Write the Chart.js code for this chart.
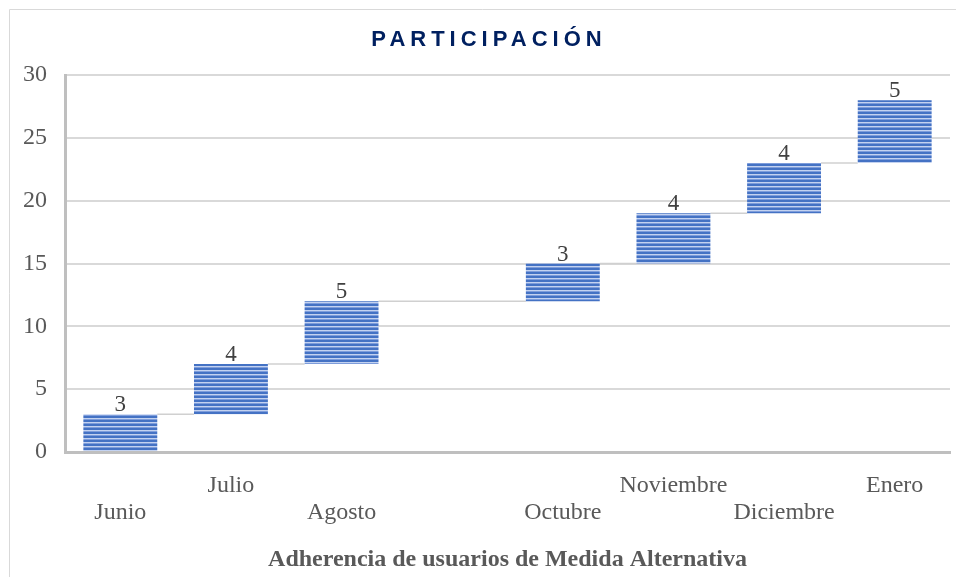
<!DOCTYPE html>
<html><head><meta charset="utf-8">
<script src="https://cdn.jsdelivr.net/npm/chart.js@4"></script>
<style>html,body{margin:0;padding:0;background:#fff;overflow:hidden}#wrap{position:relative;width:956px;height:577px}</style>
</head><body><div id="wrap"><canvas id="c" width="956" height="577"></canvas></div>
<script>
const categories = ['Junio','Julio','Agosto','','Octubre','Noviembre','Diciembre','Enero'];
const increments = [3,4,5,0,3,4,4,5];
const yTicks = [0,5,10,15,20,25,30];
const chartTitle = 'PARTICIPACIÓN';
const axisTitle = 'Adherencia de usuarios de Medida Alternativa';

const starts = [];
let run = 0;
increments.forEach(v => { starts.push(run); run += v; });
const ranges = increments.map((v, i) => v > 0 ? [starts[i], starts[i] + v] : null);

const canvas = document.getElementById('c');
const ctx = canvas.getContext('2d');

function makePattern() {
  const c = document.createElement('canvas');
  c.width = 4; c.height = 4;
  const g = c.getContext('2d');
  g.fillStyle = '#4472c4'; g.fillRect(0, 0, 4, 4);
  g.fillStyle = '#c3d2f0'; g.fillRect(0, 2, 4, 1);
  g.fillStyle = '#7e9ddb'; g.fillRect(0, 3, 4, 1);
  return ctx.createPattern(c, 'repeat');
}

const decorPlugin = {
  id: 'decor',
  beforeDraw(chart) {
    const c = chart.ctx;
    c.save();
    c.strokeStyle = '#d9d9d9';
    c.lineWidth = 1;
    c.beginPath();
    c.moveTo(9.5, 577); c.lineTo(9.5, 9.5); c.lineTo(956, 9.5);
    c.stroke();
    // title
    c.font = 'bold 22px "Liberation Sans", Arial, sans-serif';
    c.fillStyle = '#002060';
    c.textBaseline = 'alphabetic';
    c.textAlign = 'left';
    c.letterSpacing = '5px';
    const w = c.measureText(chartTitle).width - 5;
    c.fillText(chartTitle, 486.5 - w / 2, 46);
    c.letterSpacing = '0px';
    c.restore();
  },
  beforeDatasetsDraw(chart) {
    const c = chart.ctx;
    const meta = chart.getDatasetMeta(0);
    const ys = chart.scales.y;
    c.save();
    c.strokeStyle = '#d0d0d0';
    c.lineWidth = 1.5;
    let prev = null, prevIdx = -1;
    meta.data.forEach((bar, i) => {
      if (!ranges[i]) return;
      if (prev) {
        const y = ys.getPixelForValue(ranges[prevIdx][1]);
        c.beginPath();
        c.moveTo(prev.x + prev.width / 2, y);
        c.lineTo(bar.x - bar.width / 2, y);
        c.stroke();
      }
      prev = bar; prevIdx = i;
    });
    c.restore();
  },
  afterDatasetsDraw(chart) {
    const c = chart.ctx;
    const meta = chart.getDatasetMeta(0);
    c.save();
    c.font = '23px "Liberation Serif", "Times New Roman", serif';
    c.fillStyle = '#404040';
    c.textAlign = 'center';
    c.textBaseline = 'alphabetic';
    meta.data.forEach((bar, i) => {
      if (!ranges[i]) return;
      c.fillText(String(increments[i]), bar.x, bar.y - 3);
    });
    c.restore();
  }
};

new Chart(canvas, {
  type: 'bar',
  data: {
    labels: categories,
    datasets: [{
      data: ranges,
      backgroundColor: makePattern(),
      borderWidth: 0,
      barPercentage: 0.668,
      categoryPercentage: 1.0
    }]
  },
  options: {
    responsive: false,
    animation: false,
    devicePixelRatio: 1,
    layout: { padding: { top: 75, right: 6, bottom: 0, left: 0 } },
    plugins: { legend: { display: false }, tooltip: { enabled: false }, title: { display: false } },
    scales: {
      x: {
        grid: { display: false, drawTicks: false },
        border: { display: true, color: '#bfbfbf', width: 3 },
        ticks: {
          padding: 20,
          maxRotation: 0, minRotation: 0, autoSkip: false,
          color: '#595959',
          font: { family: '"Liberation Serif", "Times New Roman", serif', size: 24, lineHeight: 1.125 },
          callback: function (value, index) {
            const lab = categories[index];
            return index % 2 === 1 ? [lab, ''] : ['', lab];
          }
        },
        title: {
          display: true,
          text: axisTitle,
          color: '#595959',
          font: { family: '"Liberation Serif", "Times New Roman", serif', size: 24, weight: 'bold', lineHeight: 1.125 },
          padding: { top: 0, bottom: 4 }
        },
        afterFit(scale) { scale.height = 125; }
      },
      y: {
        min: 0, max: 30,
        afterBuildTicks(scale) { scale.ticks = yTicks.map(v => ({ value: v })); },
        grid: { color: '#d9d9d9', lineWidth: 2, drawTicks: false },
        border: { display: true, color: '#bfbfbf', width: 3 },
        ticks: {
          padding: 18,
          color: '#595959',
          font: { family: '"Liberation Serif", "Times New Roman", serif', size: 24, lineHeight: 1.125 }
        },
        afterFit(scale) { scale.width = 65; }
      }
    }
  },
  plugins: [decorPlugin]
});
</script></body></html>
